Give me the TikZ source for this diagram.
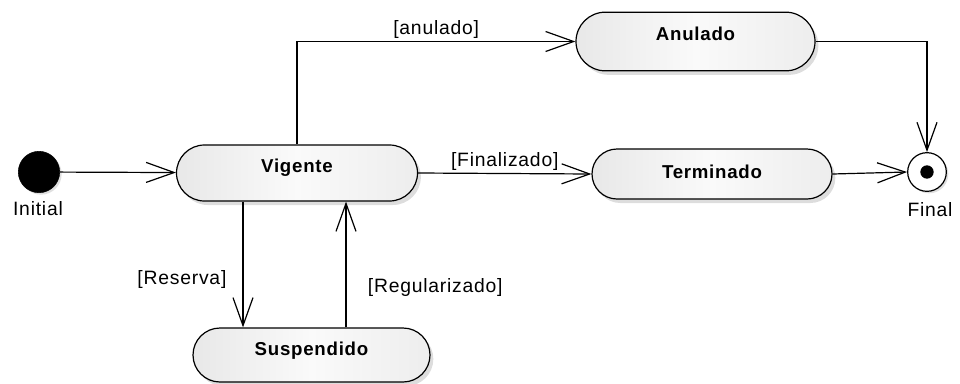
\documentclass[tikz,border=0pt]{standalone}
\usepackage{fontspec}
\setmainfont[LetterSpace=4]{Liberation Sans}
\usetikzlibrary{arrows.meta,shapes.misc,shadows}
\begin{document}
\begin{tikzpicture}[x=0.75pt,y=-0.75pt,
  every node/.style={font=\fontsize{14.5}{17}\selectfont},
  arr/.style={draw, line width=0.9pt, -{Straight Barb[length=21pt,width=15pt,line width=0.9pt]}},
  statebox/.style={rounded rectangle, draw, line width=0.9pt,
    left color=gray!18, right color=gray!14, middle color=white!96!gray,
    drop shadow={shadow xshift=2.5pt, shadow yshift=-3pt, fill=gray!45, opacity=0.6},
    inner sep=0pt},
  statename/.style={font=\fontsize{14}{17}\selectfont\bfseries},
  lbl/.style={inner sep=2pt}
]
\useasboundingbox (0,0) rectangle (960,383);

\node[circle, fill=black, draw=black, minimum size=31pt, inner sep=0pt,
  drop shadow={shadow xshift=1.5pt, shadow yshift=-1.5pt, fill=gray!50}] (ini) at (39,172) {};
\node[anchor=center] (inilbl) at (38,209) {Initial};

\node[statebox, minimum width=180.75pt, minimum height=42pt,
  label={[statename, yshift=4pt]center:Vigente}] (v) at (297,173) {};
\node[statebox, minimum width=179.25pt, minimum height=44pt,
  label={[statename, yshift=6pt]center:Anulado}] (an) at (695.5,41.5) {};
\node[statebox, minimum width=180pt, minimum height=37.5pt,
  label={[statename, yshift=2pt]center:Terminado}] (t) at (712,174) {};
\node[statebox, minimum width=177.75pt, minimum height=40.5pt,
  label={[statename, yshift=3pt]center:Suspendido}] (s) at (311.5,355) {};

\node[circle, draw=black, fill=white, line width=0.9pt, minimum size=29pt, inner sep=0pt,
  drop shadow={shadow xshift=1.5pt, shadow yshift=-1.5pt, fill=gray!50}] (f) at (927,172) {};
\node[circle, fill=black, minimum size=10pt, inner sep=0pt] (fin) at (f.center) {};
\node[anchor=center] (finlbl) at (930,210) {Final};

\draw[arr] (ini) -- (v);
\draw[arr] (v.north) |- (an.west) node[lbl, pos=0.75, above] {[anulado]};
\draw[arr] (v.east) -- (t.west) node[lbl, midway, above] {[Finalizado]};
\draw[arr] (t.east) -- (f.west);
\draw[arr] (an.east) -| (f.north);
\draw[arr] ([xshift=-40.5pt]v.south) -- ([xshift=-40.5pt]v.south |- s.north)
  node[lbl, pos=0.62, left, xshift=-10pt] {[Reserva]};
\draw[arr] ([xshift=36.75pt]v.south |- s.north) -- ([xshift=36.75pt]v.south)
  node[lbl, pos=0.32, right, xshift=14pt] {[Regularizado]};
\end{tikzpicture}
\end{document}
